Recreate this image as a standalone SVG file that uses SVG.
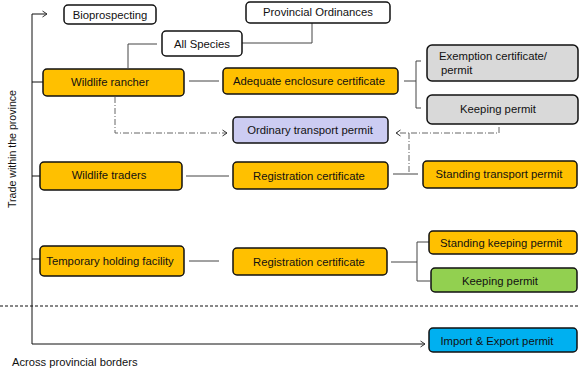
<svg xmlns="http://www.w3.org/2000/svg" width="580" height="374" viewBox="0 0 580 374">
  <defs>
    <marker id="chev" markerWidth="8" markerHeight="8" refX="6" refY="4" orient="auto" markerUnits="userSpaceOnUse">
      <path d="M1.5,1 L6,4 L1.5,7" fill="none" stroke="#333" stroke-width="1"/>
    </marker>
    <style>
      .box { stroke: #111; stroke-width: 1.5; }
      .white { fill: #ffffff; }
      .orange { fill: #ffc000; }
      .grey { fill: #d9d9d9; }
      .lav { fill: #ccccf2; }
      .green { fill: #92d050; }
      .blue { fill: #00b0f0; }
      text { font-family: "Liberation Sans", Arial, sans-serif; font-size: 11.3px; fill: #111; }
      .c { text-anchor: middle; }
      .line { fill: none; stroke: #444; stroke-width: 1; }
      .dd { fill: none; stroke: #666; stroke-width: 1; stroke-dasharray: 6 2 1 2; }
      .axis { fill: none; stroke: #111; stroke-width: 1; }
    </style>
  </defs>

  <!-- axis and section divider -->
  <g id="axis">
    <path class="axis" d="M32,14 V344" />
    <path class="axis" d="M32,14 H47" marker-end="url(#chev)"/>
    <path class="axis" d="M32,344 H425" marker-end="url(#chev)"/>
    <path class="axis" d="M32,82 H43 M32,176 H40 M32,259 H40"/>
    <path d="M0,306 H580" stroke="#111" stroke-width="1" stroke-dasharray="3 2" fill="none"/>
    <text transform="translate(16,149) rotate(-90)" class="c" style="font-size:10.6px">Trade within the province</text>
    <text x="12" y="366" style="font-size:11.2px">Across provincial  borders</text>
  </g>

  <!-- connectors -->
  <g id="connectors">
    <path class="line" d="M157,44 H128 V68"/>
    <path class="line" d="M242,43 H312 V23"/>
    <path class="line" d="M189,81 H219"/>
    <path class="line" d="M404,81 H416 M421,61 H416 V108 H421"/>
    <path class="line" d="M186,176 H229"/>
    <path class="line" d="M393,174 H418"/>
    <path class="line" d="M189,261 H219"/>
    <path class="line" d="M391,262 H417 M429,242 H417 V281 H430"/>
    <path class="dd" d="M115,97 V133 H227" marker-end="url(#chev)"/>
    <path class="dd" d="M499,127 V133 H396" marker-end="url(#chev)"/>
    <path class="dd" d="M409,133 V174"/>
  </g>

  <g id="bioprospecting">
    <rect class="box white" x="64" y="5" width="92" height="19" rx="4"/>
    <text x="110" y="19" class="c">Bioprospecting</text>
  </g>
  <g id="provincial-ordinances">
    <rect class="box white" x="246" y="2" width="144" height="21" rx="4"/>
    <text x="318" y="16" class="c">Provincial Ordinances</text>
  </g>
  <g id="all-species">
    <rect class="box white" x="162" y="31" width="80" height="25" rx="4"/>
    <text x="202" y="48" class="c">All Species</text>
  </g>

  <g id="wildlife-rancher">
    <rect class="box orange" x="43" y="69" width="141" height="27" rx="4"/>
    <text x="110" y="86" class="c">Wildlife rancher</text>
  </g>
  <g id="adequate-enclosure">
    <rect class="box orange" x="223" y="68" width="175" height="26" rx="4"/>
    <text x="309" y="85" class="c">Adequate enclosure certificate</text>
  </g>
  <g id="exemption-certificate">
    <rect class="box grey" x="427" y="45" width="151" height="36" rx="5"/>
    <text x="439" y="60">Exemption certificate/</text>
    <text x="441" y="74">permit</text>
  </g>
  <g id="keeping-permit-grey">
    <rect class="box grey" x="427" y="95" width="151" height="29" rx="5"/>
    <text x="498" y="113" class="c">Keeping permit</text>
  </g>
  <g id="ordinary-transport">
    <rect class="box lav" x="233" y="117" width="155" height="26" rx="4"/>
    <text x="310" y="134" class="c">Ordinary transport permit</text>
  </g>

  <g id="wildlife-traders">
    <rect class="box orange" x="40" y="162" width="142" height="28" rx="4"/>
    <text x="109" y="179" class="c">Wildlife traders</text>
  </g>
  <g id="registration-1">
    <rect class="box orange" x="233" y="162" width="155" height="27" rx="4"/>
    <text x="309" y="180" class="c">Registration certificate</text>
  </g>
  <g id="standing-transport">
    <rect class="box orange" x="423" y="161" width="154" height="27" rx="4"/>
    <text x="499" y="178" class="c">Standing transport permit</text>
  </g>

  <g id="temporary-holding">
    <rect class="box orange" x="40" y="246" width="144" height="30" rx="4"/>
    <text x="110" y="265" class="c">Temporary holding facility</text>
  </g>
  <g id="registration-2">
    <rect class="box orange" x="233" y="248" width="154" height="27" rx="4"/>
    <text x="309" y="266" class="c">Registration certificate</text>
  </g>
  <g id="standing-keeping">
    <rect class="box orange" x="429" y="231" width="148" height="23" rx="4"/>
    <text x="501" y="247" class="c">Standing keeping permit</text>
  </g>
  <g id="keeping-permit-green">
    <rect class="box green" x="431" y="268" width="146" height="24" rx="4"/>
    <text x="500" y="285" class="c">Keeping permit</text>
  </g>

  <g id="import-export">
    <rect class="box blue" x="429" y="328" width="148" height="24" rx="4"/>
    <text x="497" y="345" class="c">Import &amp; Export permit</text>
  </g>
</svg>
